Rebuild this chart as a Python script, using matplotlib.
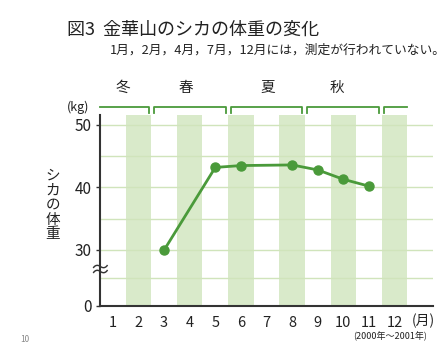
import numpy as np
import matplotlib
matplotlib.use("Agg")
import matplotlib.pyplot as plt

plt.rcParams['font.family'] = ['Noto Sans CJK JP', 'DejaVu Sans']

# データ
months = [3, 5, 6, 8, 9, 10, 11]
weights = [29.8, 43.2, 43.5, 43.6, 42.8, 41.3, 40.2]
month_labels = [str(m) for m in range(1, 13)]
shade_months = [2, 4, 6, 8, 10, 12]
y_ticks = [0, 30, 40, 50]
grid_vals = [15, 30, 35, 40, 45, 50]
seasons = ["冬", "春", "夏", "秋"]
season_pos = [1.4, 3.85, 7.05, 9.75]
season_edges = [(0.5, 2.4), (2.6, 5.4), (5.6, 8.4), (8.6, 11.4), (11.6, 12.5)]

title = "図3  金華山のシカの体重の変化"
subtitle = "1月，2月，4月，7月，12月には，測定が行われていない。"

GREEN = "#4a9a3a"
BAR = "#d9eaca"
GRID = "#d0e4bb"


# 0〜30kg を省略した縦軸
def fwd(v):
    v = np.asarray(v, dtype=float)
    return np.where(v >= 30, v - 21, v * 0.3)


def inv(p):
    p = np.asarray(p, dtype=float)
    return np.where(p >= 9, p + 21, p / 0.3)


fig = plt.figure(figsize=(4.45, 3.42), dpi=100)
ax = fig.add_axes([100 / 445, 36 / 342, 333 / 445, 191 / 342])
ax.set_yscale('function', functions=(fwd, inv))
ax.set_xlim(0.5, 13.5)
ax.set_ylim(0, 51.6)

ax.bar(shade_months, [51.6] * len(shade_months), width=1.0, color=BAR, zorder=1)
for g in grid_vals:
    ax.axhline(g, color=GRID, lw=1.0, zorder=2)

ax.plot(months, weights, color=GREEN, lw=2, marker='o', ms=6.5, zorder=4)

for s in ['top', 'right']:
    ax.spines[s].set_visible(False)
for s in ['left', 'bottom']:
    ax.spines[s].set_color('#333333')
    ax.spines[s].set_linewidth(1.5)

ax.set_xticks(range(1, 13))
ax.set_xticklabels(month_labels, fontsize=10.5, color='#222222')
ax.tick_params(axis='x', length=0, pad=7)
ax.set_yticks(y_ticks)
ax.set_yticklabels([str(t) for t in y_ticks], fontsize=11, color='#222222')
ax.tick_params(axis='y', length=3, width=1, color='#333333', pad=3)

# 省略記号
ax.text(0.5, 19, "≈", fontsize=15, ha='center', va='center', color='#333333',
        zorder=6, clip_on=False)

# 季節の区切り
tr = ax.get_xaxis_transform()
for i, (a, b) in enumerate(season_edges):
    xs = [a, a, b, b]
    ys = [1.01, 1.042, 1.042, 1.01]
    if i == 0:
        xs, ys = xs[1:], ys[1:]
    if i == len(season_edges) - 1:
        xs, ys = xs[:-1], ys[:-1]
    ax.plot(xs, ys, color=GREEN, lw=1.3, transform=tr, clip_on=False)
for name, x in zip(seasons, season_pos):
    ax.text(x, 1.14, name, transform=tr, ha='center', va='center',
            fontsize=10.5, color='#222222')

fig.text(78 / 445, 1 - 107 / 342, "(kg)", ha='center', va='center', fontsize=9,
         color='#222222')
fig.text(53 / 445, 1 - 205 / 342, "\n".join("シカの体重"), ha='center',
         va='center', fontsize=10.5, linespacing=1.05, color='#222222')
fig.text(67 / 445, 1 - 30 / 342, title, ha='left', va='center', fontsize=13,
         color='#222222')
fig.text(110 / 445, 1 - 50 / 342, subtitle, ha='left', va='center', fontsize=9.2,
         color='#222222')
fig.text(423 / 445, 1 - 321 / 342, "(月)", ha='center', va='center',
         fontsize=10, color='#222222')
fig.text(390 / 445, 1 - 336 / 342, "(2000年～2001年)", ha='center',
         va='center', fontsize=6.5, color='#222222')
fig.text(25 / 445, 1 - 339 / 342, "10", ha='center', va='center', fontsize=6,
         color='#888888')

fig.savefig("out.png", dpi=100)
